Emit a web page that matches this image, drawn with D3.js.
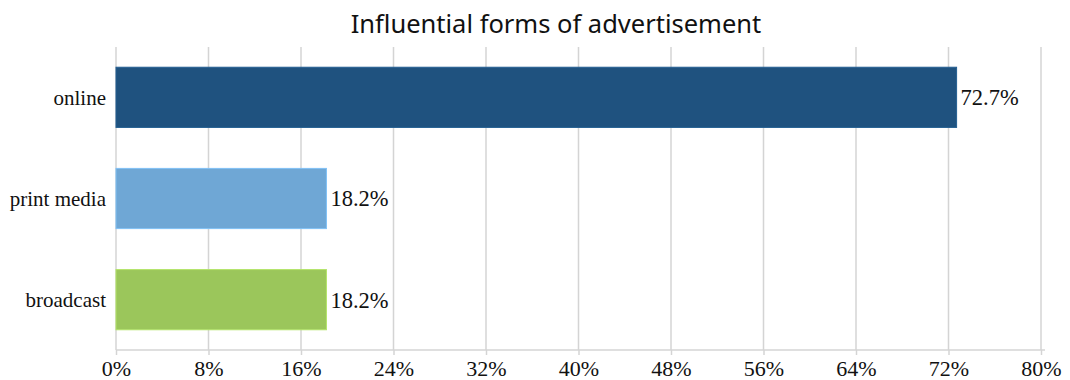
<!DOCTYPE html>
<html>
<head>
<meta charset="utf-8">
<script src="https://cdn.jsdelivr.net/npm/d3@7"></script>
<style>
  html, body { margin: 0; padding: 0; background: #fff; }
  svg { display: block; }
</style>
</head>
<body>
<svg id="chart" width="1070" height="380"></svg>
<script>
// Share of respondents naming each form of advertisement as influential
const categories = ["online", "print media", "broadcast"];
const values = [72.7, 18.2, 18.2];
const barColors = ["#1f527f", "#6fa7d5", "#9bc65b"];
const tickValues = [0, 8, 16, 24, 32, 40, 48, 56, 64, 72, 80];
const title = "Influential forms of advertisement";

const svg = d3.select("#chart");
const margin = { left: 116, right: 29, top: 47, bottom: 30 };
const width = 1070, height = 380;
const serif = "'Liberation Serif', 'Times New Roman', serif";

const x = d3.scaleLinear().domain([0, 80]).range([margin.left, width - margin.right]);
const y = d3.scaleBand().domain(categories)
  .range([margin.top, height - margin.bottom])
  .paddingInner(0.405).paddingOuter(0.2);

// vertical gridlines
svg.append("g")
  .selectAll("line")
  .data(tickValues)
  .join("line")
  .attr("x1", d => x(d)).attr("x2", d => x(d))
  .attr("y1", margin.top).attr("y2", height - margin.bottom)
  .attr("stroke", "#d4d4d4").attr("stroke-width", 1.5);

// bottom axis
const xAxis = d3.axisBottom(x).tickValues(tickValues)
  .tickFormat(d => d + "%").tickSize(5).tickPadding(5);
const gx = svg.append("g")
  .attr("transform", `translate(0,${height - margin.bottom})`)
  .call(xAxis);
gx.select(".domain").attr("stroke", "#d4d4d4").attr("stroke-width", 1.5)
  .attr("d", `M${x(0)},0H${x(80) + 4}`);
gx.selectAll(".tick line").attr("stroke", "#d4d4d4").attr("stroke-width", 1.5);
gx.selectAll(".tick text")
  .attr("font-family", serif)
  .attr("font-size", 22).attr("fill", "#111");

// bars
svg.append("g")
  .selectAll("rect")
  .data(values)
  .join("rect")
  .attr("x", x(0))
  .attr("y", (d, i) => y(categories[i]))
  .attr("width", d => x(d) - x(0))
  .attr("height", y.bandwidth())
  .attr("fill", (d, i) => barColors[i])
  .attr("stroke", (d, i) => d3.color(barColors[i]).brighter(0.4))
  .attr("stroke-width", 1);

// value labels
svg.append("g")
  .selectAll("text")
  .data(values)
  .join("text")
  .attr("x", d => x(d) + 4)
  .attr("y", (d, i) => y(categories[i]) + y.bandwidth() / 2)
  .attr("dy", "0.35em")
  .attr("font-family", serif)
  .attr("font-size", 22.5).attr("fill", "#111")
  .text(d => d.toFixed(1) + "%");

// category labels
svg.append("g")
  .selectAll("text")
  .data(categories)
  .join("text")
  .attr("x", x(0) - 10)
  .attr("y", d => y(d) + y.bandwidth() / 2)
  .attr("dy", "0.35em")
  .attr("text-anchor", "end")
  .attr("font-family", serif)
  .attr("font-size", 21).attr("fill", "#111")
  .text(d => d);

// title
svg.append("text")
  .attr("x", 556).attr("y", 33)
  .attr("text-anchor", "middle")
  .attr("font-family", "'Noto Sans', 'Open Sans', sans-serif")
  .attr("font-size", 25.5).attr("fill", "#111")
  .text(title);
</script>
</body>
</html>
